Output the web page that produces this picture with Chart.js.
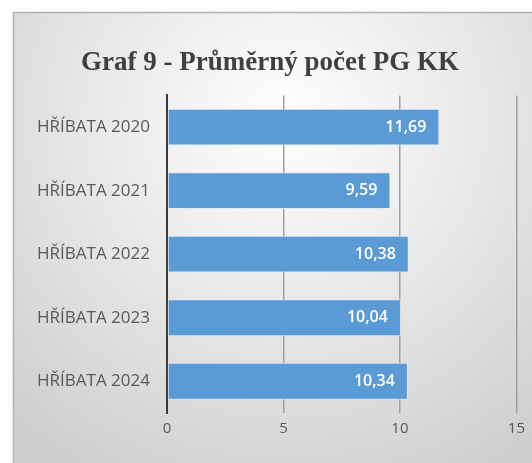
<!DOCTYPE html>
<html>
<head>
<meta charset="utf-8">
<script src="https://cdn.jsdelivr.net/npm/chart.js@4/dist/chart.umd.min.js"></script>
<style>
  html, body { margin: 0; padding: 0; background: #ffffff; }
  #wrap { width: 532px; height: 463px; }
</style>
</head>
<body>
<div id="wrap"><canvas id="graf"></canvas></div>
<script>
// Data
const kategorie = ["HŘÍBATA 2020", "HŘÍBATA 2021", "HŘÍBATA 2022", "HŘÍBATA 2023", "HŘÍBATA 2024"];
const hodnoty = [11.69, 9.59, 10.38, 10.04, 10.34];
const osaX = [0, 5, 10, 15];

// Pozadí grafu (rámeček s přechodem)
const pozadi = {
    id: 'pozadi',
    beforeDraw(chart) {
        const ctx = chart.ctx;
        ctx.save();
        ctx.fillStyle = '#ffffff';
        ctx.fillRect(0, 0, chart.width, chart.height);
        const g = ctx.createRadialGradient(285, 120, 0, 285, 120, 400);
        g.addColorStop(0, '#ffffff');
        g.addColorStop(0.3, '#f1f1f1');
        g.addColorStop(1, '#cfcfcf');
        ctx.fillStyle = g;
        ctx.fillRect(13, 12, chart.width - 13, chart.height - 12);
        ctx.strokeStyle = '#b0b0b0';
        ctx.lineWidth = 1.5;
        ctx.beginPath();
        ctx.moveTo(13.5, chart.height);
        ctx.lineTo(13.5, 12.5);
        ctx.lineTo(chart.width, 12.5);
        ctx.stroke();
        ctx.restore();
    }
};

// Popisky hodnot uvnitř sloupců
const popisky = {
    id: 'popisky',
    afterDatasetsDraw(chart) {
        const ctx = chart.ctx;
        const meta = chart.getDatasetMeta(0);
        ctx.save();
        ctx.fillStyle = '#ffffff';
        ctx.font = '600 16px "Open Sans", sans-serif';
        ctx.textAlign = 'right';
        ctx.textBaseline = 'middle';
        meta.data.forEach((bar, i) => {
            const txt = hodnoty[i].toFixed(2).replace('.', ',');
            ctx.fillText(txt, bar.x - 13, bar.y);
        });
        ctx.restore();
    }
};

new Chart(document.getElementById("graf"), {
    type: "bar",
    data: {
        labels: kategorie,
        datasets: [{
            data: hodnoty,
            backgroundColor: "#5b9bd5",
            borderColor: "rgba(220, 235, 250, 0.9)",
            borderWidth: 1,
            borderSkipped: false,
            barPercentage: 0.58,
            categoryPercentage: 1
        }]
    },
    options: {
        indexAxis: 'y',
        responsive: true,
        maintainAspectRatio: false,
        animation: false,
        events: [],
        layout: { padding: { left: 23, right: 15, top: 0, bottom: 0 } },
        plugins: {
            legend: { display: false },
            tooltip: { enabled: false },
            title: {
                display: true,
                text: "Graf 9 - Průměrný počet PG KK",
                color: '#404040',
                font: { family: '"Liberation Serif", "Times New Roman", serif', size: 27, weight: 'bold' },
                padding: { top: 47, bottom: 16 }
            }
        },
        scales: {
            x: {
                min: osaX[0],
                max: osaX[osaX.length - 1],
                afterBuildTicks: (s) => { s.ticks = osaX.map(v => ({ value: v })); },
                grid: { color: '#a0a0a0', lineWidth: 1.5, drawTicks: false },
                border: { display: false },
                ticks: {
                    color: '#595959',
                    padding: 7,
                    font: { family: '"Open Sans", sans-serif', size: 15 }
                },
                afterFit: (s) => { s.height = 50; }
            },
            y: {
                grid: { display: false, drawTicks: false },
                border: { display: true, color: '#3a3a3a', width: 2 },
                ticks: {
                    color: '#595959',
                    padding: 17,
                    font: { family: '"Open Sans", sans-serif', size: 17 }
                },
                afterFit: (s) => { s.width = 144; }
            }
        }
    },
    plugins: [pozadi, popisky]
});
</script>
</body>
</html>
